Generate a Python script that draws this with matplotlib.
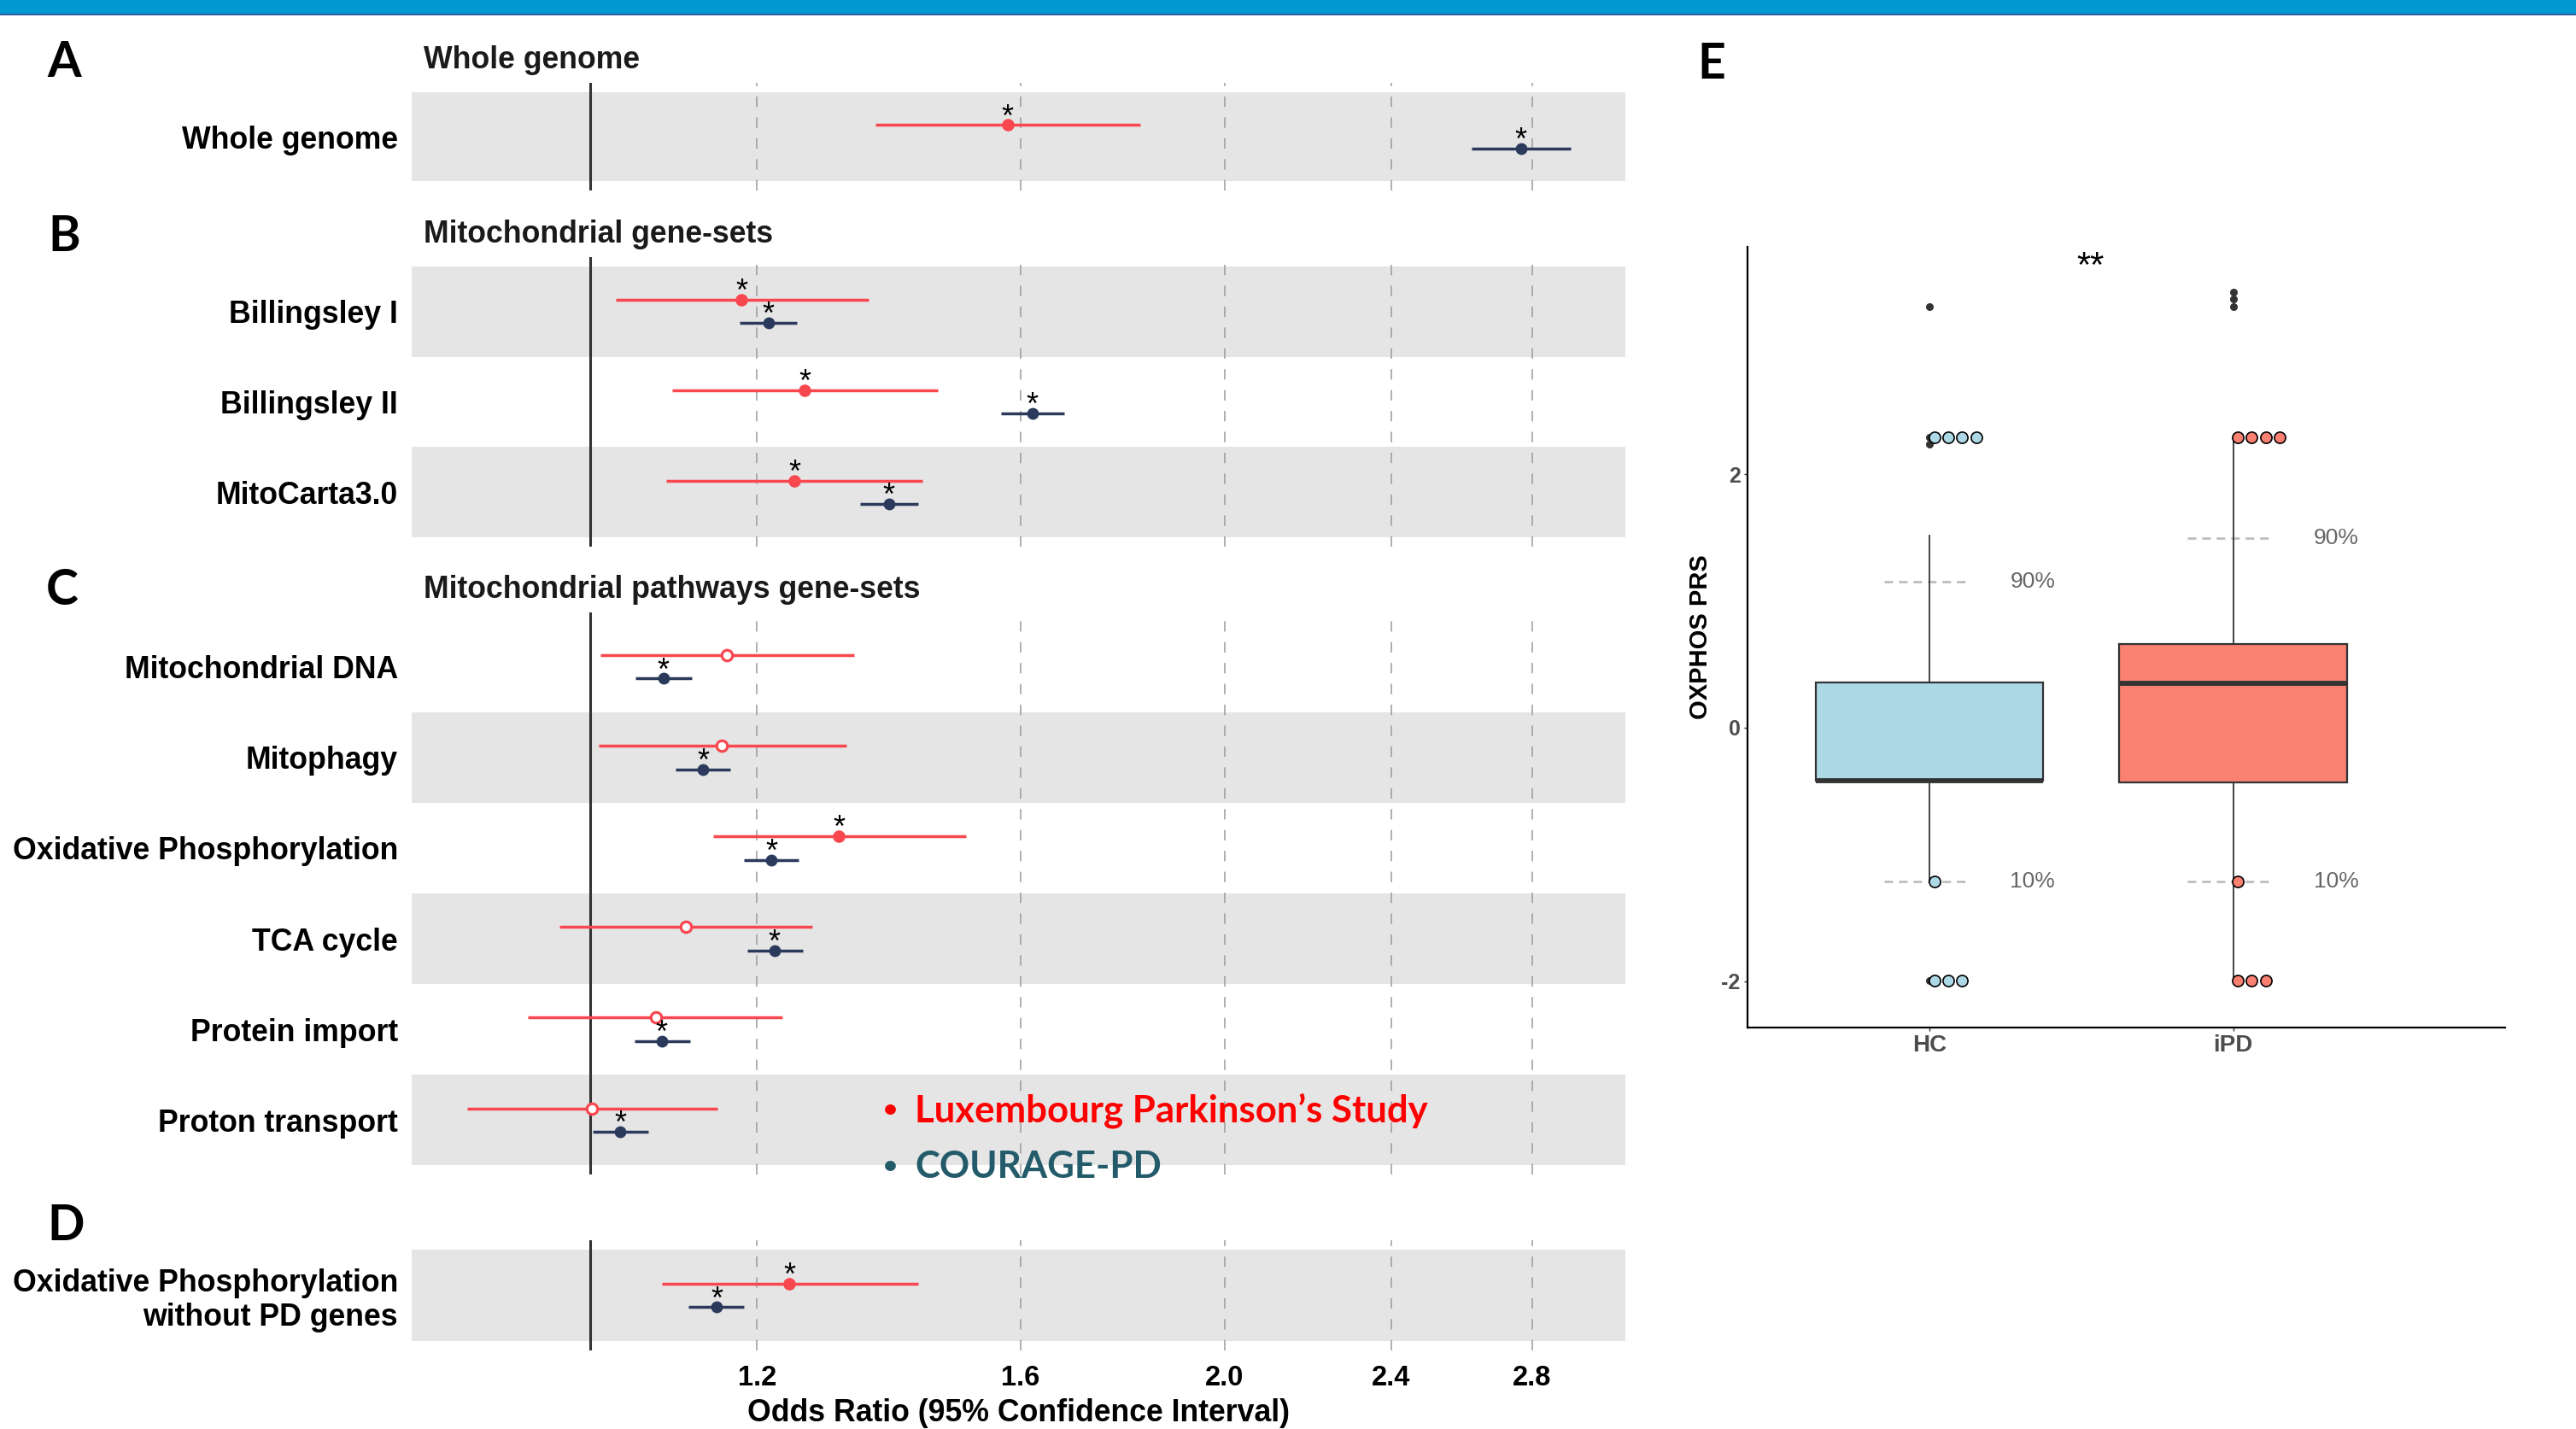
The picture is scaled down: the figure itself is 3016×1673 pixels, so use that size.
import matplotlib
matplotlib.use("Agg")
import matplotlib.pyplot as plt
from matplotlib.patches import Rectangle
from matplotlib.ticker import FixedLocator, NullLocator

# ---------------- data: forest plot (panels A-D) ----------------
gene_sets = ["Whole genome",
             "Billingsley I", "Billingsley II", "MitoCarta3.0",
             "Mitochondrial DNA", "Mitophagy", "Oxidative Phosphorylation",
             "TCA cycle", "Protein import", "Proton transport",
             "Oxidative Phosphorylation\nwithout PD genes"]
panel_of_set = ["A", "B", "B", "B", "C", "C", "C", "C", "C", "C", "D"]
panel_letters = ["A", "B", "C", "D"]
panel_titles = ["Whole genome", "Mitochondrial gene-sets",
                "Mitochondrial pathways gene-sets", ""]

luxpark_or = [1.578, 1.180, 1.264, 1.250, 1.161, 1.154, 1.312, 1.110, 1.074, 1.002, 1.243]
luxpark_lo = [1.366, 1.028, 1.094, 1.086, 1.011, 1.009, 1.144, 0.967, 0.934, 0.874, 1.081]
luxpark_hi = [1.824, 1.355, 1.462, 1.438, 1.334, 1.323, 1.508, 1.274, 1.234, 1.149, 1.431]
luxpark_sig = [True, True, True, True, False, False, True, False, False, False, True]

courage_or = [2.765, 1.215, 1.621, 1.386, 1.083, 1.131, 1.219, 1.223, 1.081, 1.033, 1.148]
courage_lo = [2.620, 1.177, 1.567, 1.343, 1.051, 1.098, 1.183, 1.187, 1.050, 1.003, 1.113]
courage_hi = [2.919, 1.253, 1.678, 1.431, 1.117, 1.165, 1.256, 1.262, 1.115, 1.065, 1.183]
courage_sig = [True] * 11

or_ticks = [1.2, 1.6, 2.0, 2.4, 2.8]
or_tick_labels = ["1.2", "1.6", "2.0", "2.4", "2.8"]
x_label = "Odds Ratio (95% Confidence Interval)"
legend_labels = ["Luxembourg Parkinson\u2019s Study", "COURAGE-PD"]

# ---------------- data: boxplot (panel E) ----------------
groups = ["HC", "iPD"]
box_q1 = [-0.420, -0.436]
box_med = [-0.420, 0.348]
box_q3 = [0.353, 0.658]
whisk_lo = [-1.216, -1.994]
whisk_hi = [1.512, 2.290]
outliers_hc = [3.32, 2.29, 2.236, -1.994]
outliers_ipd = [3.436, 3.38, 3.32]
pct90 = [1.153, 1.492]
pct10 = [-1.216, -1.216]
dot_levels = [2.29, -1.216, -1.994]
dot_counts_hc = [4, 1, 3]
dot_counts_ipd = [4, 1, 3]
prs_ticks = [-2, 0, 2]
prs_label = "OXPHOS PRS"
signif_label = "**"

# ---------------- figure ----------------
W, H = 3016, 1673
DPI = 100
fig = plt.figure(figsize=(W / DPI, H / DPI), dpi=DPI)
ARIAL = "Liberation Sans"
RED = "#F8474F"
NAVY = "#2B3A5C"
BAND = "#E5E5E5"


def fx(px):
    return px / W


def fy(py):
    return 1 - py / H


# top banner
fig.patches.append(Rectangle((0, fy(15.7)), 1, 15.7 / H, transform=fig.transFigure,
                             color="#0099D4", lw=0, zorder=0))
fig.patches.append(Rectangle((0, fy(17.7)), 1, 2.0 / H, transform=fig.transFigure,
                             color="#2F5C9E", lw=0, zorder=0))

ax_left, ax_right = 482, 1903
panel_px = {"A": (97, 223), "B": (301, 640), "C": (717, 1375), "D": (1452, 1581)}
title_y = {"A": 71, "B": 275, "C": 691}
letter_xy = {"A": (75, 74), "B": (75, 277), "C": (73, 692), "D": (77, 1435), "E": (2004, 75)}

STAR_FS = 26
STAR_DY = -0.8

for p, title in zip(panel_letters, panel_titles):
    top, bot = panel_px[p]
    idx = [i for i, q in enumerate(panel_of_set) if q == p]
    n = len(idx)
    ax = fig.add_axes([fx(ax_left), fy(bot), fx(ax_right) - fx(ax_left), (bot - top) / H])
    ax.set_xscale("log")
    ax.set_xlim(0.8226, 3.100)
    ax.set_ylim(n + 0.6, 0.4)
    for k in range(n):
        row = k + 1
        if (n - row) % 2 == 0:
            ax.axhspan(row - 0.5, row + 0.5, color=BAND, lw=0, zorder=0)
    for t in or_ticks:
        ax.axvline(t, color="#9A9A9A", lw=1.1, ls=(0, (8, 8)), zorder=1)
    ax.axvline(1.0, color="#333333", lw=2.2, zorder=2)
    for k, i in enumerate(idx):
        row = k + 1
        # LuxPARK (red)
        yl = row - 0.13
        ax.plot([luxpark_lo[i], luxpark_hi[i]], [yl, yl], color=RED, lw=2.5,
                solid_capstyle="butt", zorder=3)
        if luxpark_sig[i]:
            ax.plot([luxpark_or[i]], [yl], "o", ms=10.5, mfc=RED, mec=RED, mew=0, zorder=4)
            ax.annotate("*", (luxpark_or[i], yl), xytext=(0, STAR_DY), textcoords="offset points",
                        ha="center", va="baseline", fontsize=STAR_FS, family=ARIAL,
                        color="black", zorder=5)
        else:
            ax.plot([luxpark_or[i]], [yl], "o", ms=9, mfc="white", mec=RED, mew=2.3, zorder=4)
        # COURAGE-PD (navy)
        yc = row + 0.13
        ax.plot([courage_lo[i], courage_hi[i]], [yc, yc], color=NAVY, lw=2.5,
                solid_capstyle="butt", zorder=3)
        ax.plot([courage_or[i]], [yc], "o", ms=10, mfc=NAVY, mec=NAVY, mew=0, zorder=4)
        if courage_sig[i]:
            ax.annotate("*", (courage_or[i], yc), xytext=(0, STAR_DY), textcoords="offset points",
                        ha="center", va="baseline", fontsize=STAR_FS, family=ARIAL,
                        color="black", zorder=5)
    for s in ax.spines.values():
        s.set_visible(False)
    ax.set_yticks(range(1, n + 1))
    ax.set_yticklabels([gene_sets[i] for i in idx], fontsize=25.7, family=ARIAL,
                       fontweight="bold", linespacing=1.15)
    ax.tick_params(axis="y", length=0, pad=11.5)
    ax.xaxis.set_major_locator(FixedLocator(or_ticks))
    ax.xaxis.set_minor_locator(NullLocator())
    if p == "D":
        ax.set_xticklabels(or_tick_labels, fontsize=23.5, family=ARIAL, fontweight="bold")
        ax.tick_params(axis="x", length=0, pad=12)
        ax.set_xlabel(x_label, fontsize=25.7, family=ARIAL, fontweight="bold", labelpad=6)
    else:
        ax.set_xticklabels([])
        ax.tick_params(axis="x", length=0)
    if title:
        fig.text(fx(496), fy(title_y[p]), title, ha="left", va="center", fontsize=25.7,
                 family=ARIAL, fontweight="bold", color="#1A1A1A")
    lx, ly = letter_xy[p]
    fig.text(fx(lx), fy(ly), p, ha="center", va="center", fontsize=41,
             family="Lato", fontweight="bold", color="black")

# legend text
leg_colors = ["#FF0000", "#245B6B"]
leg_y = [1300, 1366]
for lab, col, yy in zip(legend_labels, leg_colors, leg_y):
    fig.text(fx(1042), fy(yy), "\u2022", ha="center", va="center", fontsize=21,
             family="Lato", fontweight="bold", color=col)
    fig.text(fx(1071), fy(yy), lab, ha="left", va="center", fontsize=31.5,
             family="Lato", fontweight="bold", color=col)

# ---------------- panel E ----------------
axE = fig.add_axes([fx(2046), fy(1202.7), fx(2933) - fx(2046), (1202.7 - 289.5) / H])
positions = [1, 2]
stats = []
for g, a, m, b, lo, hi in zip(groups, box_q1, box_med, box_q3, whisk_lo, whisk_hi):
    stats.append({"label": g, "q1": a, "med": m, "q3": b, "whislo": lo, "whishi": hi,
                  "fliers": []})
box_colors = ["#ADD8E6", "#FA8072"]
bp = axE.bxp(stats, positions=positions, widths=0.75, patch_artist=True,
             showcaps=False, showfliers=False,
             boxprops=dict(edgecolor="#333333", linewidth=1.6),
             whiskerprops=dict(color="#333333", linewidth=1.3),
             medianprops=dict(color="#333333", linewidth=4.2, solid_capstyle="butt"))
for patch, c in zip(bp["boxes"], box_colors):
    patch.set_facecolor(c)
    patch.set_zorder(2)
for w in bp["whiskers"]:
    w.set_zorder(2)
for mline in bp["medians"]:
    mline.set_zorder(3)

# outliers
axE.plot([1] * len(outliers_hc), outliers_hc, "o", ms=6.5, color="#333333", mew=0, zorder=4)
axE.plot([2] * len(outliers_ipd), outliers_ipd, "o", ms=6.5, color="#333333", mew=0, zorder=4)

# percentile markers
for pos, v90, v10 in zip(positions, pct90, pct10):
    for v, lab in ((v90, "90%"), (v10, "10%")):
        axE.plot([pos - 0.15, pos + 0.13], [v, v], color="#BDBDBD", lw=2,
                 ls=(0, (3.6, 2.5)), zorder=1)
        axE.text(pos + 0.265, v, lab, ha="left", va="center", fontsize=19,
                 family=ARIAL, color="#666666")

# stacked dots
for pos, counts, c in zip(positions, [dot_counts_hc, dot_counts_ipd], box_colors):
    for lvl, cnt in zip(dot_levels, counts):
        xs = [pos + 0.015 + 0.046 * k for k in range(cnt)]
        axE.plot(xs, [lvl] * cnt, "o", ms=9.5, mfc=c, mec="black", mew=1.2, zorder=5)

axE.text(1.53, 3.63, signif_label, ha="center", va="center", fontsize=30,
         family=ARIAL, color="black")

axE.set_xlim(0.4, 2.896)
axE.set_ylim(-2.365, 3.79)
axE.spines["top"].set_visible(False)
axE.spines["right"].set_visible(False)
axE.spines["left"].set_linewidth(1.6)
axE.spines["bottom"].set_linewidth(1.6)
axE.set_xticks(positions)
axE.set_xticklabels(groups, fontsize=20, family=ARIAL, fontweight="bold", color="#4D4D4D")
axE.set_yticks(prs_ticks)
axE.set_yticklabels([str(t) for t in prs_ticks], fontsize=18, family=ARIAL,
                    fontweight="bold", color="#4D4D4D")
axE.tick_params(axis="both", length=3, width=1, color="#333333", pad=3)
axE.set_ylabel(prs_label, fontsize=21, family=ARIAL, fontweight="bold", color="black")
axE.yaxis.set_label_coords((2005 - 2046) / (2933 - 2046), 0.5)
fig.text(fx(letter_xy["E"][0]), fy(letter_xy["E"][1]), "E", ha="center", va="center",
         fontsize=41, family="Lato", fontweight="bold", color="black")

fig.savefig("out.png", dpi=DPI)
